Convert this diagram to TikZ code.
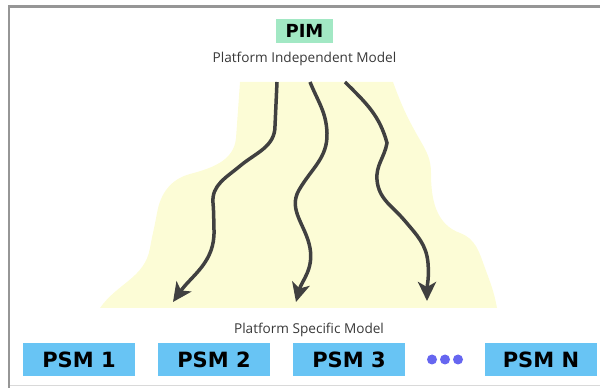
\documentclass[tikz,border=0pt]{standalone}
\usepackage{fontspec}
\setmainfont{Open Sans}
\newfontfamily\boxfont{DejaVu Sans}
\usetikzlibrary{positioning,arrows.meta}

\definecolor{blobyellow}{RGB}{252,252,214}
\definecolor{pimgreen}{RGB}{162,232,196}
\definecolor{psmblue}{RGB}{104,196,244}
\definecolor{dotblue}{RGB}{102,102,240}
\definecolor{arrowgray}{RGB}{64,64,64}
\definecolor{framegray}{RGB}{150,150,150}

\begin{document}
\begin{tikzpicture}[x=1pt,y=1pt,node distance=135pt,on grid,
    box/.style={inner sep=0pt,font=\boxfont\bfseries},
    psm/.style={box,fill=psmblue,minimum width=112pt,minimum height=33pt,
      font=\boxfont\bfseries\fontsize{21}{22}\selectfont},
    caption/.style={text=black!78,font=\fontsize{13.6}{14}\selectfont},
    flow/.style={draw=arrowgray,line width=3.5pt,
      -{Stealth[length=19pt,width=18pt,inset=5pt]}}]
  \useasboundingbox (0,0) rectangle (600,388);
  % frame
  \fill[framegray] (8,380) rectangle (600,383);
  \fill[framegray] (8,0) rectangle (10,383);
  \draw[black!15] (10,3) -- (600,3);
  % yellow area
  \fill[blobyellow] (100,80) to[out=55,in=-100] (150,140)
    to[out=80,in=-100] (157,175) to[out=80,in=-165] (190,214)
    to[out=15,in=-95] (236,250) -- (240,306) -- (393,306)
    to[out=-70,in=120] (420,248) to[out=-60,in=90] (431,215)
    to[out=-90,in=160] (460,155) to[out=-20,in=110] (485,120)
    to[out=-70,in=100] (497,80) -- cycle;
  % top
  \node[box,fill=pimgreen,minimum width=57pt,minimum height=24pt,
    font=\boxfont\bfseries\fontsize{18}{19}\selectfont] (pim) at (304.5,357) {PIM};
  \node[caption] (pimlabel) [below=28pt of pim] {Platform Independent Model};
  % bottom
  \node[psm] (psm1) at (79,28.5) {PSM 1};
  \node[psm] (psm2) [right=of psm1] {PSM 2};
  \node[psm] (psm3) [right=of psm2] {PSM 3};
  \node (dots) [right=96pt of psm3] {};
  \node[psm] (psmn) [right=96pt of dots] {PSM N};
  \foreach \dx in {-13,0,13}
    \fill[dotblue] ([xshift=\dx pt]dots.center) circle (5pt);
  \node[caption] (psmlabel) at (309,58) {Platform Specific Model};
  % transformations
  \coordinate (a1) at (277,306);
  \coordinate (a2) at (310,306);
  \coordinate (a3) at (345,306);
  \coordinate (b1) at (173,86);
  \coordinate (b2) at (296,86);
  \coordinate (b3) at (427,87);
  \draw[flow] (a1) -- (275,262) to[out=-90,in=40] (240,222)
    to[out=-140,in=95] (213,185) to[out=-85,in=92] (214,158)
    to[out=-88,in=55] (b1);
  \draw[flow] (a2) to[out=-68,in=92] (327,255) to[out=-88,in=60] (299,198)
    to[out=-120,in=100] (310,140) to[out=-80,in=75] (b2);
  \draw[flow] (a3) to[out=-45,in=105] (387,245) to[out=-100,in=95] (377,208)
    to[out=-85,in=130] (405,167) to[out=-50,in=95] (428,125)
    to[out=-85,in=90] (b3);
\end{tikzpicture}
\end{document}
